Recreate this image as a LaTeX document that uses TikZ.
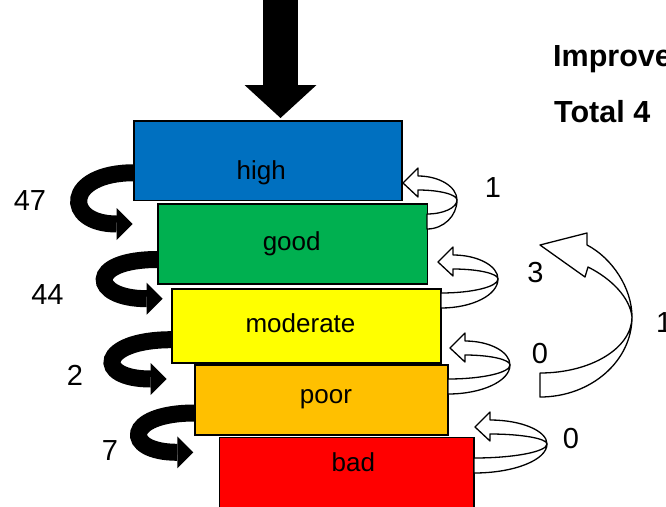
\documentclass[tikz,border=0pt]{standalone}
\usepackage{fontspec}
\setmainfont{Liberation Sans}
\usepackage{xcolor}
\usepackage{tikz}
\usetikzlibrary{arrows.meta}
\usetikzlibrary{calc}
\definecolor{cHigh}{HTML}{0070C0}
\definecolor{cGood}{HTML}{00B050}
\definecolor{cMod}{HTML}{FFFF00}
\definecolor{cPoor}{HTML}{FFC000}
\definecolor{cBad}{HTML}{FF0000}
\tikzset{
  box/.style={draw=black, line width=1.6pt, inner sep=0pt, outer sep=0pt},
  lbl/.style={font=\fontsize{26}{30}\selectfont, anchor=base, inner sep=0pt},
  num/.style={font=\fontsize{29}{34}\selectfont, anchor=base, inner sep=0pt},
  ttl/.style={font=\bfseries\fontsize{30.5}{36}\selectfont, anchor=base west, inner sep=0pt},
  fatarrow/.style={line width=17pt, -{Triangle[length=16pt,width=32pt,line width=0pt]}},
  ring/.style={fill=white, draw=black, line width=1.3pt, line join=round},
}

\begin{document}
\begin{tikzpicture}[x=1pt, y=-1pt]
\useasboundingbox (0,0) rectangle (666,506);
\clip (0,0) rectangle (666,506);
% class boxes
\foreach \n/\c/\x/\y/\w/\h in {high/cHigh/268/160.75/268/79.5, good/cGood/292.5/244/269.6/80, moderate/cMod/306.35/325.7/269.3/74, poor/cPoor/321.2/400/253/70, bad/cBad/346.65/473.3/254.7/72}{
    \node[box, fill=\c, minimum width=\w pt, minimum height=\h pt] (\n) at (\x,\y) {};
}
\node[lbl] (high-t) at (261.3,179.3) {high};
\node[lbl] (good-t) at (291.7,250) {good};
\node[lbl] (moderate-t) at (300.5,332) {moderate};
\node[lbl] (poor-t) at (326,403) {poor};
\node[lbl] (bad-t) at (353.3,471.7) {bad};
% input arrow
\coordinate (in) at (280.5,-5);
\draw[line width=35pt, -{Triangle[length=33pt,width=72pt,line width=0pt]}] (in) -- ([xshift=12.5pt,yshift=3pt]high.north);
% downgrades
\foreach \a/\b/\sy/\tx/\ty/\cx in {high/good/12/-25/20/70, good/moderate/15.5/-9/27/72, moderate/poor/14/-28/21/73, poor/bad/13/-26/21/71}{
    \draw[fatarrow] ([yshift=-\sy pt]\a.west) .. controls +(-\cx,0) and +(-\cx,0) .. ([xshift=\tx pt,yshift=\ty pt]\b.west);
}
\node[num] (n47) at (30,210) {47};
\node[num] (n44) at (47.5,304) {44};
\node[num] (n2) at (75,385) {2};
\node[num] (n7) at (110,460) {7};
% upgrades
\foreach \tx/\ty/\bx/\rx in {403/183/24/54, 438/262/3/60, 450/348/-2/60, 475/427/-1/72}{
  \begin{scope}[shift={(\tx,\ty)}]
    \pgfmathsetmacro\ua{15+0.55*(\rx-15)}
    \pgfmathsetmacro\la{\bx+0.55*(\rx-\bx)}
    \draw[ring] (\bx,31) .. controls (\la,31) and (\rx,24.7) .. (\rx,17) .. controls (\rx,33) and (\la,46) .. (\bx,46) -- cycle;
    \draw[ring] (0,0) -- (15,-15) -- (15,-7) .. controls (\ua,-7) and (\rx,3.8) .. (\rx,17) .. controls (\rx,11.5) and (\ua,7) .. (15,7) -- (15,14) -- cycle;
  \end{scope}
}
\node[num] (u1) at (493,197) {1};
\node[num] (u3) at (535.5,282) {3};
\node[num] (u0a) at (540,363) {0};
\node[num] (u0b) at (571,448) {0};
% total
\draw[ring] (632,317) .. controls (632,361) and (591,397) .. (540,397) -- (540,373) .. controls (591,373) and (632,348) .. (632,317) -- cycle;
\draw[ring] (540,245) -- (587,233) -- (587,245) .. controls (612,258) and (632,288) .. (632,317) .. controls (630,298) and (612,279) .. (588,267) -- (585,277) -- cycle;
\node[num, anchor=base west] (tot) at (655.8,332) {1};
\node[ttl] (imp) at (553,66) {Improve};
\node[ttl] (sum) at (554,122) {Total 4};
\end{tikzpicture}
\end{document}
